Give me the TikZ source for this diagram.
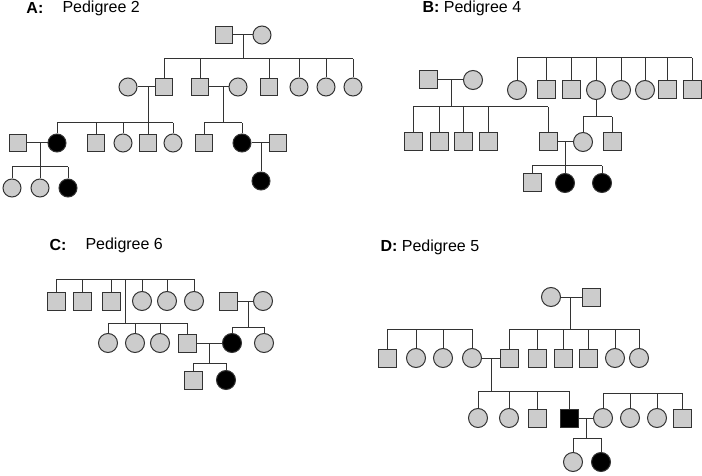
\documentclass[tikz,border=0pt]{standalone}
\usepackage{fontspec}
\setmainfont{Liberation Sans}
\begin{document}
\begin{tikzpicture}[x=1pt,y=-1pt,
  line width=1pt, draw=black!80,
  sqA/.style={rectangle, draw=black!80, fill=black!20, minimum size=17pt, inner sep=0pt},
  ciA/.style={circle, draw=black!80, fill=black!20, minimum size=18pt, inner sep=0pt},
  sq/.style={rectangle, draw=black!80, fill=black!20, minimum size=18pt, inner sep=0pt},
  ci/.style={circle, draw=black!80, fill=black!20, minimum size=19pt, inner sep=0pt},
  aff/.style={fill=black},
  lbl/.style={anchor=west, inner sep=0pt, font=\fontsize{16}{19}\selectfont}]
\path[use as bounding box] (0,0) rectangle (702,476);

% ---------------- Panel A ----------------
\node[lbl] (labA1) at (26,8) {\textbf{A:}};
\node[lbl] (labA2) at (62,8) {Pedigree 2};
\node[sqA] (a1) at (224,35) {};
\node[ciA] (a2) at (262,35) {};
\node[ciA] (a3) at (128,87) {};
\node[sqA] (a4) at (164,87) {};
\node[sqA] (a5) at (200,87) {};
\node[ciA] (a6) at (238,87) {};
\node[sqA] (a7) at (269,87) {};
\node[ciA] (a8) at (299,87) {};
\node[ciA] (a9) at (326,87) {};
\node[ciA] (a10) at (353,87) {};
\node[sqA] (a11) at (18,143) {};
\node[ciA,aff] (a12) at (57,143) {};
\node[sqA] (a13) at (96,143) {};
\node[ciA] (a14) at (123,143) {};
\node[sqA] (a15) at (148,143) {};
\node[ciA] (a16) at (173,143) {};
\node[sqA] (a17) at (204,143) {};
\node[ciA,aff] (a18) at (242,143) {};
\node[sqA] (a19) at (278,143) {};
\node[ciA,aff] (a20) at (261,181) {};
\node[ciA] (a21) at (12,188) {};
\node[ciA] (a22) at (40,188) {};
\node[ciA,aff] (a23) at (68,188) {};

\coordinate (mA1) at (243,35); \coordinate (sA1) at (0,59);
\draw (a1) -- (a2); \draw (mA1) -- (mA1 |- sA1);
\draw (a4 |- sA1) -- (a10 |- sA1);
\foreach \c in {a4,a5,a7,a8,a9,a10} \draw (\c.north) -- (\c |- sA1);

\coordinate (mA2) at (148,87); \coordinate (sA2) at (0,123);
\draw (a3) -- (a4); \draw (mA2) -- (mA2 |- sA2);
\draw (a12 |- sA2) -- (a16 |- sA2);
\foreach \c in {a12,a13,a14,a15,a16} \draw (\c.north) -- (\c |- sA2);

\coordinate (mA3) at (223,87); \coordinate (sA3) at (0,123);
\draw (a5) -- (a6); \draw (mA3) -- (mA3 |- sA3);
\draw (a17 |- sA3) -- (a18 |- sA3);
\foreach \c in {a17,a18} \draw (\c.north) -- (\c |- sA3);

\coordinate (mA4) at (261,143);
\draw (a18) -- (a19); \draw (mA4) -- (a20.north);

\coordinate (mA5) at (40,143); \coordinate (sA5) at (0,167);
\draw (a11) -- (a12); \draw (mA5) -- (mA5 |- sA5);
\draw (a21 |- sA5) -- (a23 |- sA5);
\foreach \c in {a21,a22,a23} \draw (\c.north) -- (\c |- sA5);

% ---------------- Panel B ----------------
\node[lbl] (labB) at (422,8) {\textbf{B:} Pedigree 4};
\node[sq] (b1) at (428,80) {};
\node[ci] (b2) at (473,80) {};
\node[sq] (b3) at (413,142) {};
\node[sq] (b4) at (439,142) {};
\node[sq] (b5) at (463,142) {};
\node[sq] (b6) at (488,142) {};
\node[sq] (b7) at (548,142) {};
\node[ci] (b8) at (517,90) {};
\node[sq] (b9) at (546,90) {};
\node[sq] (b10) at (571,90) {};
\node[ci] (b11) at (596,90) {};
\node[ci] (b12) at (621,90) {};
\node[ci] (b13) at (645,90) {};
\node[sq] (b14) at (667,90) {};
\node[sq] (b15) at (692,90) {};
\node[ci] (b16) at (583,142) {};
\node[sq] (b17) at (612,142) {};
\node[sq] (b18) at (532,183) {};
\node[ci,aff] (b19) at (565,183) {};
\node[ci,aff] (b20) at (602,183) {};

\coordinate (mB1) at (451,80); \coordinate (sB1) at (0,107);
\draw (b1) -- (b2); \draw (mB1) -- (mB1 |- sB1);
\draw (b3 |- sB1) -- (b7 |- sB1);
\foreach \c in {b3,b4,b5,b6,b7} \draw (\c.north) -- (\c |- sB1);

\coordinate (sB2) at (0,58);
\draw (b8 |- sB2) -- (b15 |- sB2);
\foreach \c in {b8,b9,b10,b11,b12,b13,b14,b15} \draw (\c.north) -- (\c |- sB2);

\coordinate (sB3) at (0,117);
\draw (b11.south) -- (b11 |- sB3);
\draw (b16 |- sB3) -- (b17 |- sB3);
\foreach \c in {b16,b17} \draw (\c.north) -- (\c |- sB3);

\coordinate (mB4) at (565,142); \coordinate (sB4) at (0,166);
\draw (b7) -- (b16); \draw (mB4) -- (mB4 |- sB4);
\draw (b18 |- sB4) -- (b20 |- sB4);
\foreach \c in {b18,b19,b20} \draw (\c.north) -- (\c |- sB4);

% ---------------- Panel C ----------------
\node[lbl] (labC1) at (49,245) {\textbf{C:}};
\node[lbl] (labC2) at (85,245) {Pedigree 6};
\node[sq] (c1) at (56,301) {};
\node[sq] (c2) at (82,301) {};
\node[sq] (c3) at (111,301) {};
\node[ci] (c4) at (142,301) {};
\node[ci] (c5) at (167,301) {};
\node[ci] (c6) at (194,301) {};
\node[ci] (c7) at (108,343) {};
\node[ci] (c8) at (135,343) {};
\node[ci] (c9) at (160,343) {};
\node[sq] (c10) at (187,343) {};
\node[sq] (c11) at (228,301) {};
\node[ci] (c12) at (263,301) {};
\node[ci,aff] (c13) at (232,343) {};
\node[ci] (c14) at (264,343) {};
\node[sq] (c15) at (193,380) {};
\node[ci,aff] (c16) at (226,380) {};

\coordinate (sC1) at (0,279);
\draw (c1 |- sC1) -- (c6 |- sC1);
\foreach \c in {c1,c2,c3,c4,c5,c6} \draw (\c.north) -- (\c |- sC1);
\coordinate (mC1) at (125,279); \coordinate (sC2) at (0,323);
\draw (mC1) -- (mC1 |- sC2);
\draw (c7 |- sC2) -- (c10 |- sC2);
\foreach \c in {c7,c8,c9,c10} \draw (\c.north) -- (\c |- sC2);

\coordinate (mC3) at (248,301); \coordinate (sC3) at (0,327);
\draw (c11) -- (c12); \draw (mC3) -- (mC3 |- sC3);
\draw (c13 |- sC3) -- (c14 |- sC3);
\foreach \c in {c13,c14} \draw (\c.north) -- (\c |- sC3);

\coordinate (mC4) at (209,343); \coordinate (sC4) at (0,363);
\draw (c10) -- (c13); \draw (mC4) -- (mC4 |- sC4);
\draw (c15 |- sC4) -- (c16 |- sC4);
\foreach \c in {c15,c16} \draw (\c.north) -- (\c |- sC4);

% ---------------- Panel D ----------------
\node[lbl] (labD) at (380,247) {\textbf{D:} Pedigree 5};
\node[ci] (d1) at (551,297) {};
\node[sq] (d2) at (591,297) {};
\node[sq] (d3) at (509,358) {};
\node[sq] (d4) at (537,358) {};
\node[sq] (d5) at (563,358) {};
\node[sq] (d6) at (588,358) {};
\node[ci] (d7) at (615,358) {};
\node[ci] (d8) at (639,358) {};
\node[sq] (d9) at (387,358) {};
\node[ci] (d10) at (416,358) {};
\node[ci] (d11) at (443,358) {};
\node[ci] (d12) at (472,358) {};
\node[ci] (d13) at (478,418) {};
\node[ci] (d14) at (509,418) {};
\node[sq] (d15) at (537,418) {};
\node[sq,aff] (d16) at (569,418) {};
\node[ci] (d17) at (603,418) {};
\node[ci] (d18) at (630,418) {};
\node[ci] (d19) at (657,418) {};
\node[sq] (d20) at (682,418) {};
\node[ci] (d21) at (573,462) {};
\node[ci,aff] (d22) at (601,462) {};

\coordinate (mD1) at (570,297); \coordinate (sD1) at (0,329);
\draw (d1) -- (d2); \draw (mD1) -- (mD1 |- sD1);
\draw (d3 |- sD1) -- (d8 |- sD1);
\foreach \c in {d3,d4,d5,d6,d7,d8} \draw (\c.north) -- (\c |- sD1);

\coordinate (sD2) at (0,329);
\draw (d9 |- sD2) -- (d12 |- sD2);
\foreach \c in {d9,d10,d11,d12} \draw (\c.north) -- (\c |- sD2);

\coordinate (mD3) at (491,358); \coordinate (sD3) at (0,391);
\draw (d12) -- (d3); \draw (mD3) -- (mD3 |- sD3);
\draw (d13 |- sD3) -- (d16 |- sD3);
\foreach \c in {d13,d14,d15,d16} \draw (\c.north) -- (\c |- sD3);

\coordinate (sD4) at (0,393);
\draw (d17 |- sD4) -- (d20 |- sD4);
\foreach \c in {d17,d18,d19,d20} \draw (\c.north) -- (\c |- sD4);

\coordinate (mD5) at (586,418); \coordinate (sD5) at (0,438);
\draw (d16) -- (d17); \draw (mD5) -- (mD5 |- sD5);
\draw (d21 |- sD5) -- (d22 |- sD5);
\foreach \c in {d21,d22} \draw (\c.north) -- (\c |- sD5);
\end{tikzpicture}
\end{document}
